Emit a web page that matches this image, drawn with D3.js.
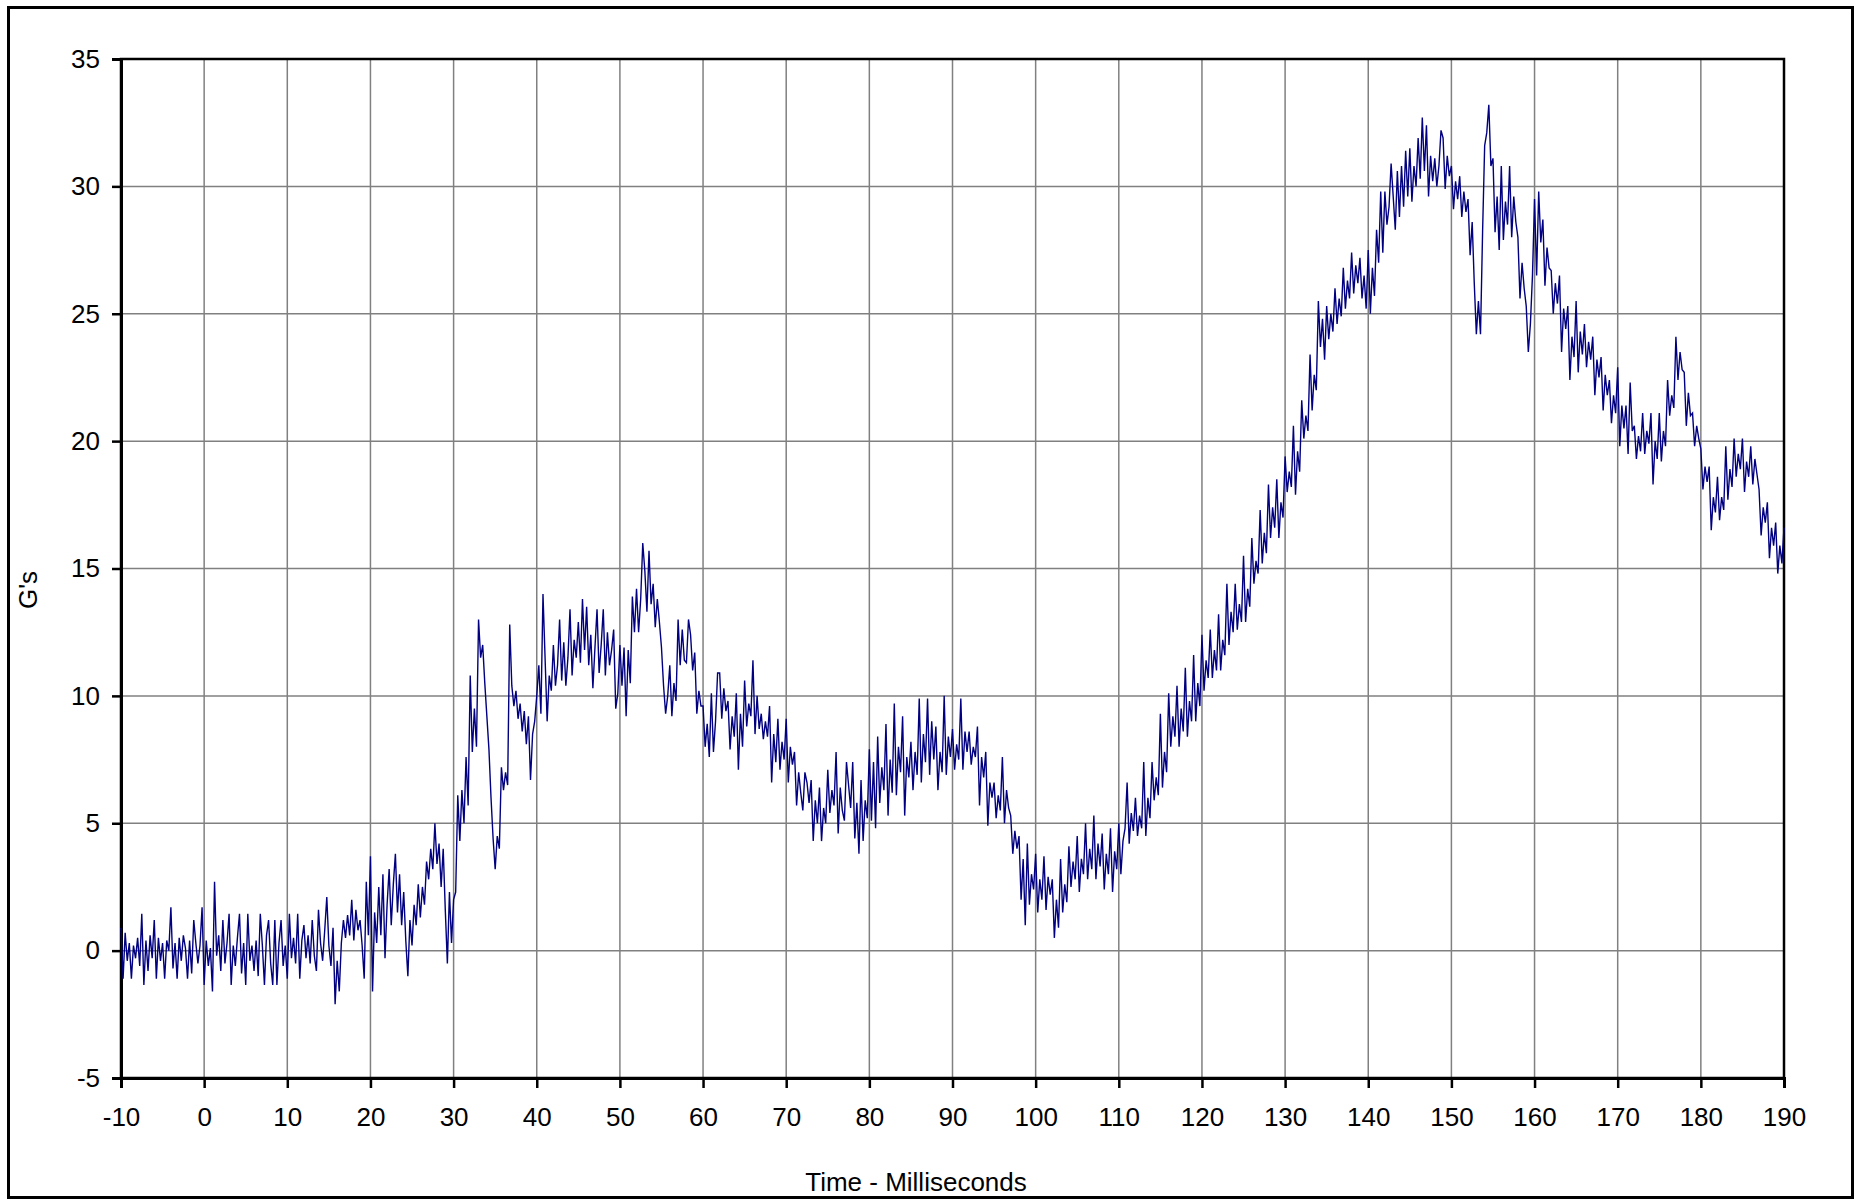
<!DOCTYPE html>
<html>
<head>
<meta charset="utf-8">
<script src="https://cdn.jsdelivr.net/npm/d3@7"></script>
<style>
  body { margin: 0; background: #fff; }
  text { font-family: "Liberation Sans", Arial, sans-serif; fill: #000; }
</style>
</head>
<body>
<svg id="chart" width="1862" height="1199"></svg>
<script>
// sample timing of the trace (ms)
var tStart = -10, tStep = 0.25;

// G's, 4 samples per millisecond, one line per 5 ms
var gs = [
  0.9,-1.1,0.7,-0.4, 0.3,-1.1,0.2,-0.3, 0.5,-0.6,1.45,-1.35, 0.4,-0.8,0.6,-0.3, 1.2,-1.1,0.5,-0.4,
  0.3,-1.1,0.4,0.0, 1.7,-0.7,0.3,-1.1, 0.5,-0.4,0.6,0.1, -1.1,0.4,-0.9,1.2, 0.3,-0.5,0.2,1.7,
  -1.35,0.4,-0.6,0.1, -1.6,2.7,-0.2,0.6, -0.8,1.2,-0.5,0.3, 1.45,-1.35,0.2,-0.6, 0.5,1.45,-0.9,0.3,
  -1.35,1.45,-0.4,0.2, -0.8,0.4,-1.0,1.45, 0.2,-1.35,0.6,1.2, -0.5,-1.35,1.2,-1.35, 0.3,1.2,-0.6,0.2,
  -1.1,1.45,-0.3,0.5, -0.5,1.45,-1.1,0.4, 1.0,-0.3,0.6,-0.5, 1.2,-0.2,-0.8,1.6, 0.3,-0.4,0.8,2.1,
  0.2,-0.6,0.9,-2.1, -0.4,-1.6,0.3,1.2, 0.5,1.4,0.6,2.0, 0.4,1.6,0.8,1.2, 0.2,-1.1,2.7,0.6,
  3.7,-1.6,1.5,0.3, 2.5,0.6,3.0,-0.3, 1.8,3.2,1.0,2.6, 3.8,1.5,3.0,1.0, 2.3,0.4,-1.0,1.2,
  0.2,1.8,1.0,2.6, 1.3,2.5,1.8,3.5, 2.8,4.0,3.2,5.0, 3.4,4.2,2.5,4.0, 1.6,-0.5,2.3,0.3,
  2.0,2.3,6.1,4.3, 6.3,5.0,7.6,5.7, 10.8,7.8,9.5,8.0, 13.0,11.5,12.0,10.5, 9.2,7.9,6.0,4.4,
  3.2,4.5,4.0,7.2, 6.3,7.0,6.5,12.8, 10.4,9.6,10.2,9.1, 9.7,8.6,9.4,8.1, 9.2,6.7,8.5,9.0,
  10.0,11.2,9.3,14.0, 11.5,9.0,10.8,10.2, 12.0,10.4,11.2,13.0, 10.6,12.1,10.4,11.5, 13.4,10.8,12.2,11.5,
  12.9,11.3,13.8,11.8, 13.5,11.2,12.4,10.3, 11.9,13.4,10.9,12.0, 13.4,10.8,12.5,11.2, 11.8,12.6,9.5,10.1,
  12.0,10.4,11.9,9.2, 11.8,10.5,13.9,12.5, 14.2,12.5,13.8,16.0, 14.9,13.3,15.7,13.6, 14.4,12.7,13.8,12.9,
  11.9,10.4,9.3,10.0, 11.2,9.2,10.5,9.8, 13.0,11.2,12.6,11.4, 11.3,13.0,12.4,11.0, 11.7,9.3,10.2,9.6,
  9.6,8.0,8.9,7.6, 10.1,7.8,9.0,10.9, 10.9,9.1,10.3,9.4, 9.8,7.9,9.2,8.4, 10.1,7.1,9.3,8.0,
  10.6,8.8,9.7,9.2, 11.4,8.5,10.0,8.7, 9.3,8.3,9.0,8.4, 9.6,6.6,8.5,7.4, 9.1,7.1,8.2,7.5,
  9.1,6.6,8.0,7.3, 7.8,5.7,7.0,6.2, 5.5,7.0,6.6,5.8, 6.7,4.3,5.9,5.0, 6.4,4.3,5.6,5.0,
  7.1,5.4,6.3,5.7, 7.8,4.6,6.4,5.5, 5.1,7.4,6.5,5.6, 7.4,4.4,5.8,3.8, 6.7,4.3,5.9,5.2,
  7.9,5.1,7.4,4.8, 8.4,5.8,7.2,6.3, 8.9,5.3,7.5,6.2, 9.7,6.1,8.0,7.0, 9.2,5.3,7.6,6.8,
  8.2,6.3,7.8,6.9, 9.9,6.6,8.5,7.4, 9.9,6.9,9.0,7.5, 8.8,6.3,7.8,7.0, 10.0,6.9,8.4,7.6,
  8.7,7.1,8.1,7.5, 9.9,7.1,8.6,7.8, 8.6,7.3,8.0,7.6, 8.8,5.7,7.6,6.8, 7.8,4.9,6.6,6.0,
  6.6,5.2,6.1,5.5, 7.6,5.0,6.3,5.6, 5.3,3.8,4.7,4.0, 4.5,2.0,3.6,1.0, 4.2,1.8,3.0,2.4,
  3.8,1.5,2.8,2.0, 3.7,1.6,2.9,2.2, 2.8,0.5,2.0,0.9, 3.6,1.5,2.6,1.9, 4.1,2.5,3.5,2.8,
  4.5,2.3,3.6,3.0, 5.0,2.8,4.0,3.2, 5.3,2.8,4.2,3.3, 4.6,2.4,3.8,3.0, 4.8,2.3,3.9,3.2,
  5.0,3.0,4.3,4.8, 6.6,4.2,5.4,4.7, 6.0,4.5,5.3,4.8, 7.4,4.5,6.0,5.2, 7.4,5.9,6.8,6.1,
  9.3,6.4,7.8,7.0, 10.1,8.0,9.2,8.4, 10.4,8.0,9.5,8.6, 11.1,8.4,9.8,9.0, 11.6,9.0,10.5,9.6,
  12.4,10.2,11.4,10.7, 12.6,10.7,11.8,11.0, 13.2,11.0,12.2,11.6, 14.4,12.0,13.3,12.5, 14.4,12.6,13.6,12.9,
  15.5,12.9,14.2,13.5, 16.2,14.4,15.3,14.8, 17.3,15.2,16.4,15.6, 18.3,16.2,17.4,16.6, 18.5,16.2,17.6,17.0,
  19.4,18.0,18.8,18.2, 20.6,17.9,19.6,18.8, 21.6,20.1,21.0,20.4, 23.4,21.2,22.6,22.0, 25.5,23.7,24.8,23.2,
  25.3,24.0,25.0,24.3, 26.0,24.6,25.6,24.9, 26.8,25.2,26.3,25.6, 27.4,25.8,26.9,26.2, 27.2,25.6,26.5,25.2,
  27.5,25.0,26.8,25.7, 28.3,27.0,29.8,27.4, 29.8,28.5,29.2,30.9, 29.6,28.3,30.6,28.8, 30.8,29.2,31.4,29.6,
  31.5,29.4,30.8,30.0, 31.9,30.3,32.7,30.6, 32.4,29.6,31.2,30.2, 31.1,30.0,30.8,32.2, 31.9,29.9,31.2,30.4,
  30.8,29.1,30.2,29.5, 30.4,28.8,29.8,29.0, 29.5,27.3,28.6,26.2, 24.2,25.5,24.2,28.2, 31.6,32.1,33.2,30.8,
  31.1,28.2,29.6,27.5, 30.8,27.9,29.4,28.5, 30.8,28.0,29.6,28.6, 28.0,25.6,27.0,26.0, 25.3,23.5,24.6,26.5,
  29.5,26.5,29.8,27.8, 28.7,26.1,27.6,26.8, 26.7,25.0,26.2,25.4, 26.5,23.5,25.2,24.4, 25.3,22.4,24.1,23.3,
  25.5,22.7,24.3,23.4, 24.6,22.9,23.9,23.2, 24.1,21.8,23.2,22.5, 23.3,21.2,22.6,21.8, 22.4,20.7,21.8,21.1,
  22.9,19.8,21.4,20.5, 21.4,19.5,22.3,20.4, 20.6,19.3,20.2,19.6, 21.1,19.5,20.4,19.9, 21.1,18.3,20.0,19.3,
  21.1,19.2,20.4,19.8, 22.4,21.0,21.8,21.3, 24.1,22.4,23.5,22.8, 22.7,20.6,21.9,21.0, 21.1,19.8,20.6,20.1,
  19.7,18.1,19.0,18.4, 19.0,16.5,17.8,17.2, 18.6,16.9,17.8,17.3, 19.8,17.7,18.9,18.2, 20.1,18.6,19.5,18.9,
  20.1,18.0,19.2,18.6, 19.8,18.3,19.3,18.7, 18.1,16.3,17.4,16.8, 17.6,15.4,16.6,15.9, 16.8,14.8,15.9,15.2,
  16.6
];

var xTicks = d3.range(-10, 191, 10);
var yTicks = d3.range(-5, 36, 5);

var svg = d3.select("#chart");
var plotL = 121, plotR = 1784, plotT = 59, plotB = 1078;

var x = d3.scaleLinear().domain([-10, 190]).range([plotL, plotR]);
var y = d3.scaleLinear().domain([-5, 35]).range([plotB, plotT]);

// outer chart border
svg.append("rect")
    .attr("x", 8.5).attr("y", 7.5)
    .attr("width", 1844).attr("height", 1190)
    .attr("fill", "#fff")
    .attr("stroke", "#000")
    .attr("stroke-width", 3);

// grid
svg.append("g").selectAll("line").data(xTicks.slice(1, -1)).join("line")
    .attr("x1", d => x(d)).attr("x2", d => x(d))
    .attr("y1", plotT).attr("y2", plotB)
    .attr("stroke", "#808080").attr("stroke-width", 1.5);
svg.append("g").selectAll("line").data(yTicks.slice(1, -1)).join("line")
    .attr("x1", plotL).attr("x2", plotR)
    .attr("y1", d => y(d)).attr("y2", d => y(d))
    .attr("stroke", "#808080").attr("stroke-width", 1.5);

// plot frame
svg.append("rect")
    .attr("x", plotL).attr("y", plotT)
    .attr("width", plotR - plotL).attr("height", plotB - plotT)
    .attr("fill", "none").attr("stroke", "#000").attr("stroke-width", 2.5);

// axes
var fmt = d => String(d);   // plain hyphen for negatives, like the original
var xAxis = svg.append("g")
    .attr("transform", "translate(0," + plotB + ")")
    .call(d3.axisBottom(x).tickValues(xTicks).tickSize(10).tickPadding(20).tickFormat(fmt));
var yAxis = svg.append("g")
    .attr("transform", "translate(" + plotL + ",0)")
    .call(d3.axisLeft(y).tickValues(yTicks).tickSize(9).tickPadding(12).tickFormat(fmt));

[xAxis, yAxis].forEach(function(a) {
    a.select(".domain").attr("stroke", "#000").attr("stroke-width", 3);
    a.selectAll(".tick line").attr("stroke", "#000").attr("stroke-width", 2.5);
    a.selectAll(".tick text")
        .style("font-family", "'Liberation Sans', Arial, sans-serif")
        .style("font-size", "26px")
        .attr("fill", "#000");
});

// the trace
var line = d3.line()
    .x((d, i) => x(tStart + i * tStep))
    .y(d => y(d));

svg.append("path")
    .datum(gs)
    .attr("d", line)
    .attr("fill", "none")
    .attr("stroke", "#000080")
    .attr("stroke-width", 1.4)
    .attr("stroke-linejoin", "miter");

// axis titles
svg.append("text")
    .attr("x", 916).attr("y", 1191)
    .attr("text-anchor", "middle")
    .style("font-size", "26px")
    .text("Time - Milliseconds");

svg.append("text")
    .attr("transform", "translate(37,590) rotate(-90)")
    .attr("text-anchor", "middle")
    .style("font-size", "26px")
    .text("G's");
</script>
</body>
</html>
